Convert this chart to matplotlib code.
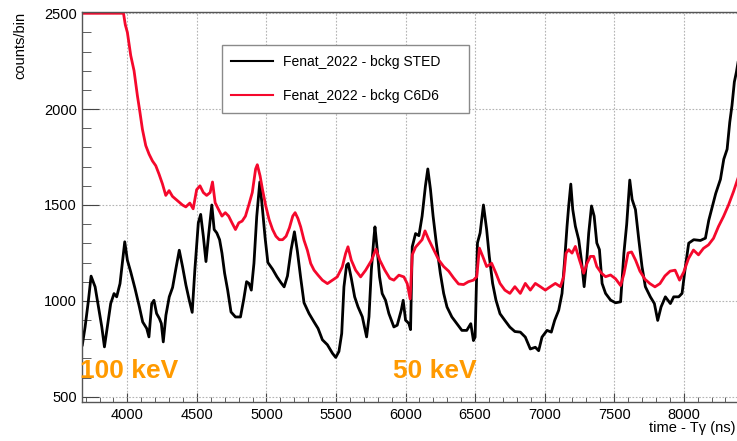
import matplotlib
matplotlib.use("Agg")
import matplotlib.pyplot as plt
from matplotlib.ticker import MultipleLocator

plt.rcParams['font.family'] = ['Liberation Sans', 'DejaVu Sans']

# background spectra, counts per bin vs time after the gamma flash
sted_t = [3676, 3696, 3720, 3739, 3768, 3792, 3816, 3835, 3856, 3880, 3904, 3923, 3947, 3966, 3981,
          4000, 4024, 4055, 4086, 4110, 4139, 4155, 4175, 4191, 4210, 4230, 4244, 4258, 4277, 4301,
          4325, 4349, 4373, 4397, 4421, 4445, 4466, 4485, 4510, 4527, 4546, 4565, 4583, 4607, 4624,
          4643, 4663, 4680, 4699, 4721, 4745, 4777, 4813, 4837, 4857, 4874, 4891, 4910, 4930, 4952,
          4971, 4990, 5010, 5044, 5075, 5104, 5127, 5151, 5177, 5201, 5222, 5246, 5270, 5306, 5342,
          5371, 5402, 5438, 5474, 5498, 5521, 5541, 5557, 5576, 5588, 5610, 5634, 5658, 5689, 5720,
          5737, 5754, 5773, 5780, 5797, 5813, 5832, 5856, 5880, 5916, 5940, 5969, 5983, 6000, 6024,
          6036, 6048, 6072, 6096, 6119, 6143, 6160, 6179, 6198, 6221, 6250, 6274, 6298, 6333, 6369,
          6405, 6440, 6469, 6488, 6500, 6517, 6536, 6560, 6583, 6602, 6626, 6650, 6679, 6714, 6750,
          6786, 6825, 6861, 6897, 6933, 6957, 6981, 7017, 7048, 7072, 7101, 7125, 7144, 7161, 7173,
          7188, 7202, 7221, 7245, 7264, 7284, 7303, 7317, 7337, 7356, 7375, 7394, 7413, 7438, 7474,
          7510, 7546, 7570, 7590, 7612, 7629, 7653, 7677, 7700, 7724, 7760, 7789, 7813, 7837, 7868,
          7904, 7928, 7964, 7988, 8012, 8036, 8072, 8120, 8156, 8180, 8205, 8230, 8264, 8288, 8312,
          8331, 8347, 8364, 8379, 8395]
sted_counts = [770, 864, 1003, 1129, 1073, 969, 864, 760, 864, 986, 1038, 1021, 1090, 1212, 1308,
               1212, 1151, 1064, 969, 890, 856, 812, 986, 1003, 934, 908, 882, 786, 925, 1021,
               1070, 1169, 1264, 1177, 1082, 1003, 940, 1161, 1407, 1451, 1337, 1205, 1337, 1500, 1372,
               1354, 1319, 1249, 1144, 1056, 942, 916, 916, 1010, 1100, 1091, 1056, 1196, 1440, 1620,
               1480, 1330, 1200, 1165, 1126, 1095, 1073, 1130, 1267, 1360, 1260, 1120, 990, 934, 890,
               856, 797, 771, 727, 705, 736, 830, 1073, 1186, 1195, 1117, 1021, 969, 917, 812,
               917, 1160, 1334, 1386, 1264, 1125, 1038, 1003, 934, 864, 873, 951, 1003, 899, 882,
               850, 1282, 1351, 1340, 1442, 1600, 1688, 1582, 1442, 1302, 1144, 1039, 968, 916, 881,
               846, 846, 881, 793, 811, 1302, 1354, 1500, 1372, 1232, 1091, 1004, 933, 898, 863,
               840, 837, 811, 749, 758, 740, 811, 846, 837, 898, 951, 1039, 1214, 1389, 1495,
               1609, 1477, 1389, 1319, 1214, 1074, 1214, 1354, 1495, 1442, 1302, 1267, 1091, 1039, 1004,
               990, 995, 1250, 1400, 1630, 1529, 1476, 1319, 1179, 1074, 1021, 986, 898, 968, 1021,
               986, 1021, 1021, 1039, 1179, 1301, 1319, 1315, 1327, 1420, 1490, 1560, 1634, 1739, 1791,
               1932, 2019, 2142, 2194, 2264]

c6d6_t = [3676, 3750, 3850, 3950, 3972, 3985, 4000, 4024, 4048, 4072, 4089, 4108, 4132, 4156, 4180,
          4204, 4228, 4252, 4276, 4300, 4324, 4348, 4372, 4396, 4420, 4449, 4473, 4498, 4522, 4546,
          4570, 4595, 4612, 4631, 4655, 4680, 4704, 4728, 4752, 4777, 4801, 4825, 4849, 4874, 4898,
          4922, 4934, 4954, 4971, 4995, 5019, 5044, 5068, 5092, 5116, 5141, 5165, 5189, 5206, 5226,
          5246, 5270, 5294, 5318, 5342, 5371, 5402, 5438, 5474, 5509, 5545, 5569, 5586, 5610, 5641,
          5677, 5713, 5756, 5787, 5815, 5851, 5887, 5916, 5952, 5988, 6012, 6033, 6048, 6072, 6096,
          6119, 6140, 6167, 6202, 6238, 6274, 6310, 6345, 6381, 6417, 6452, 6488, 6512, 6531, 6555,
          6583, 6619, 6650, 6679, 6714, 6750, 6786, 6825, 6861, 6897, 6933, 6969, 7005, 7041, 7077,
          7113, 7137, 7154, 7173, 7197, 7221, 7250, 7281, 7305, 7329, 7353, 7375, 7409, 7438, 7474,
          7510, 7546, 7570, 7600, 7625, 7654, 7685, 7721, 7757, 7793, 7829, 7865, 7902, 7938, 7970,
          8000, 8034, 8070, 8106, 8142, 8178, 8214, 8250, 8286, 8322, 8358, 8395]
c6d6_counts = [2500, 2500, 2500, 2500, 2500, 2440, 2400, 2280, 2200, 2070, 1990, 1895, 1810, 1765, 1730,
               1705, 1660, 1610, 1550, 1575, 1545, 1530, 1515, 1500, 1490, 1510, 1480, 1580, 1600, 1565,
               1550, 1565, 1620, 1512, 1477, 1442, 1460, 1442, 1407, 1372, 1407, 1416, 1442, 1503, 1565,
               1688, 1710, 1652, 1582, 1495, 1424, 1372, 1337, 1319, 1319, 1337, 1381, 1442, 1460, 1430,
               1386, 1316, 1264, 1195, 1160, 1134, 1108, 1090, 1108, 1125, 1177, 1247, 1282, 1212, 1160,
               1125, 1160, 1212, 1270, 1212, 1160, 1117, 1108, 1134, 1125, 1090, 1010, 1240, 1280, 1300,
               1319, 1365, 1319, 1267, 1214, 1179, 1155, 1120, 1088, 1085, 1100, 1108, 1126, 1275, 1232,
               1179, 1196, 1144, 1091, 1056, 1039, 1074, 1039, 1091, 1056, 1091, 1074, 1056, 1074, 1091,
               1074, 1126, 1249, 1267, 1249, 1284, 1214, 1144, 1196, 1232, 1232, 1179, 1144, 1126, 1135,
               1115, 1080, 1140, 1250, 1255, 1212, 1155, 1113, 1090, 1073, 1090, 1130, 1155, 1160, 1108,
               1150, 1220, 1265, 1240, 1274, 1292, 1326, 1388, 1440, 1500, 1570, 1650]

fig = plt.figure(figsize=(7.37, 4.41), dpi=100)
ax = fig.add_axes([0.1117, 0.0891, 0.8915, 0.883])

l_sted, = ax.plot(sted_t, sted_counts, color='black', lw=2.0)
l_c6d6, = ax.plot(c6d6_t, c6d6_counts, color='#f5082c', lw=2.0)

ax.set_xlim(3676, 8400)
ax.set_ylim(474, 2505)

ax.xaxis.set_major_locator(MultipleLocator(500))
ax.xaxis.set_minor_locator(MultipleLocator(100))
ax.yaxis.set_major_locator(MultipleLocator(500))
ax.yaxis.set_minor_locator(MultipleLocator(100))

ax.tick_params(axis='both', which='both', direction='in', color='#444444',
               labelsize=10.5, top=False, right=False)
ax.tick_params(axis='x', which='major', length=6.5, pad=4.5)
ax.tick_params(axis='x', which='minor', length=3.5)
ax.tick_params(axis='y', which='major', length=12.5, pad=4)
ax.tick_params(axis='y', which='minor', length=6.5)

for sp in ax.spines.values():
    sp.set_color('#555555')
    sp.set_linewidth(1.0)

ax.grid(True, which='major', color='#b4b4b4', linestyle=(0, (1.5, 1.5)), linewidth=0.8)
ax.set_axisbelow(True)

fig.text(0.027, 0.972, 'counts/bin', rotation=90, ha='center', va='top', fontsize=10.5)
fig.text(0.998, 0.0295, 'time - T\u03b3 (ns)', ha='right', va='center', fontsize=10.5)

fig.text(80 / 737, 0.1422, '100 keV', color='#ff9a00', fontsize=19, fontweight='bold',
         ha='left', va='baseline')
fig.text(393 / 737, 0.1422, '50 keV', color='#ff9a00', fontsize=19, fontweight='bold',
         ha='left', va='baseline')

leg = ax.legend([l_sted, l_c6d6], ['Fenat_2022 - bckg STED', 'Fenat_2022 - bckg C6D6'],
                loc='upper left', bbox_to_anchor=(0.3008, 0.698, 0.3352, 0.2),
                bbox_transform=fig.transFigure, mode='expand', borderaxespad=0,
                fontsize=10, fancybox=False, framealpha=1, edgecolor='#8a8a8a',
                handlelength=3.0, handletextpad=0.75, labelspacing=1.45, borderpad=0.7)
leg.get_frame().set_linewidth(1.0)
for h in leg.get_lines():
    h.set_linewidth(1.5)

fig.savefig('out.png', dpi=100)
